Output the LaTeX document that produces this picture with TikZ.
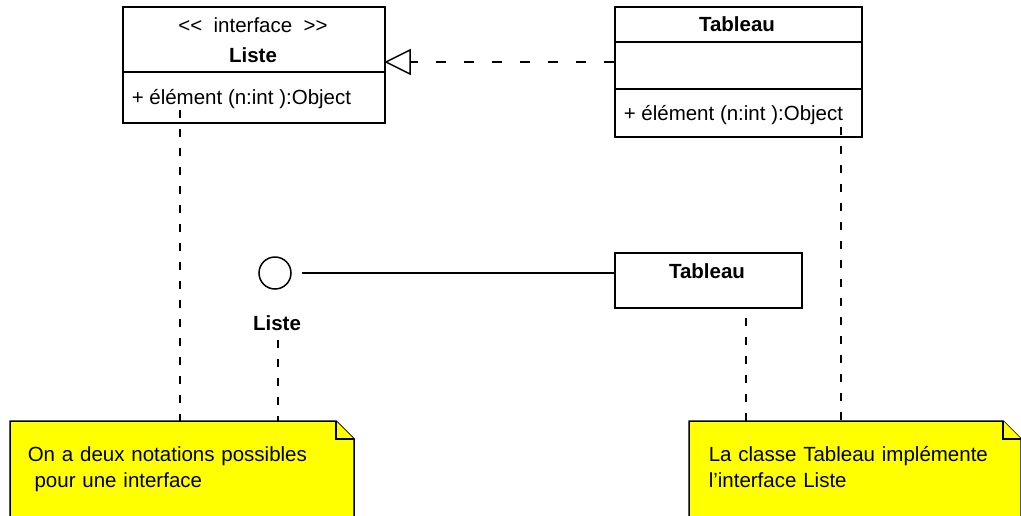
\documentclass[tikz,border=0pt]{standalone}
\usepackage{fontspec}
\setmainfont{Liberation Sans}
\usetikzlibrary{calc}
\definecolor{noteyellow}{RGB}{255,255,0}
\begin{document}
\begin{tikzpicture}[x=1pt,y=-1pt,
  line width=1.5pt,
  every node/.style={font=\fontsize{20.5}{26}\selectfont, inner sep=0pt},
  bf/.style={font=\fontsize{20.5}{26}\selectfont\bfseries},
  umlbox/.style={draw, rectangle, anchor=north west},
  txt/.style={anchor=base},
  vdash/.style={dash pattern=on 8pt off 11pt},
  hdash/.style={dash pattern=on 10pt off 18pt},
  notebg/.style={fill=noteyellow, draw=black}]
\useasboundingbox (0,0) rectangle (1021,515);
\clip (0,0) rectangle (1021,515);
% Interface Liste (class notation)
\node[umlbox, minimum width=262pt, minimum height=116pt] (liste) at (122,6) {};
\node[txt] (lstereo) at (253,32) {\textless{}\textless\ \ interface\ \ \textgreater{}\textgreater};
\node[txt, bf] (lname) at (253,62) {Liste};
\draw (122,72) -- (384,72);
\node[txt, anchor=base west] (lop) at (131,104) {+ élément (n:int ):Object};
% Tableau class
\node[umlbox, minimum width=247pt, minimum height=130pt] (tab) at (614,6) {};
\node[txt, bf] (tname) at (737,31) {Tableau};
\draw (614,42) -- (861,42);
\draw (614,89) -- (861,89);
\node[txt, anchor=base west] (top) at (623,120) {+ élément (n:int ):Object};
% realization arrow
\coordinate (tip) at (386,62);
\coordinate (tbase) at (410,62);
\draw[hdash] (tab.west |- tip) -- (tbase);
\draw[line join=miter] (tip) -- (410,50) -- (410,74) -- cycle;
% lollipop notation
\node[draw, circle, minimum size=32pt] (lolli) at (275,273) {};
\coordinate (lstart) at (302,273);
\node[txt, bf] (lolname) at (277,330) {Liste};
\node[umlbox, minimum width=187pt, minimum height=55pt] (tab2) at (614,252) {};
\node[txt, bf] (t2name) at (707,278) {Tableau};
\draw (lstart) -- (tab2.west |- lstart);
% notes
\coordinate (n1tl) at (10,421);
\coordinate (n2tl) at (689,421);
\draw[notebg, line join=miter] (10,421) -- (336,421) -- (354,439) -- (354,540) -- (10,540) -- cycle;
\draw[notebg, line join=miter] (336,421) -- (336,439) -- (354,439);
\node[anchor=north west, text width=330pt] (note1) at (27,446) {On a deux notations possibles\\\ pour une interface};
\draw[notebg, line join=miter] (689,421) -- (1003,421) -- (1021,439) -- (1021,540) -- (689,540) -- cycle;
\draw[notebg, line join=miter] (1003,421) -- (1003,439) -- (1021,439);
\node[anchor=north west, text width=320pt] (note2) at (708,446) {La classe Tableau implémente\\l’interface Liste};
% dashed anchors
\coordinate (a1) at (180,110);
\coordinate (a2) at (278,340);
\coordinate (a3) at (746,318);
\coordinate (a4) at (841,127);
\draw[vdash] (a1) -- (a1 |- n1tl);
\draw[vdash] (a2) -- (a2 |- n1tl);
\draw[vdash] (a3) -- (a3 |- n2tl);
\draw[vdash] (a4) -- (a4 |- n2tl);
\end{tikzpicture}
\end{document}
